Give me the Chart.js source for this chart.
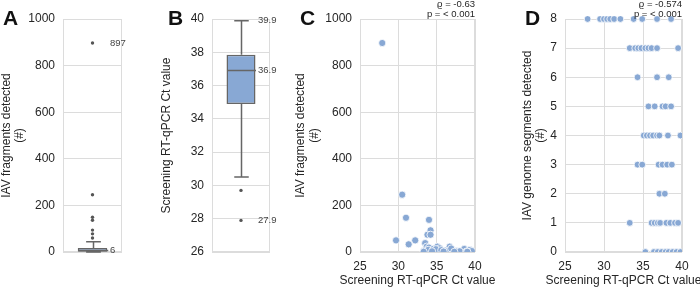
<!DOCTYPE html>
<html lang="en">
<head>
<title>IAV fragments and Ct values</title>
<script src="https://cdn.jsdelivr.net/npm/chart.js"></script>
<style>
    body { margin: 0; background: #fff; }
    #wrap { position: relative; width: 700px; height: 288px; overflow: hidden; }
    canvas { position: absolute; top: 0; }
    .letter { position: absolute; top: 7px; font: bold 21px "Liberation Sans", Arial, sans-serif; line-height: 1; color: #111; }
</style>
</head>
<body>
<div id="wrap">
    <canvas id="chartA" width="150" height="288" style="left:0px"></canvas>
    <canvas id="chartB" width="140" height="288" style="left:150px"></canvas>
    <canvas id="chartC" width="210" height="288" style="left:290px"></canvas>
    <canvas id="chartD" width="185" height="288" style="left:515px"></canvas>
    <div class="letter" style="left:3px">A</div>
    <div class="letter" style="left:168px">B</div>
    <div class="letter" style="left:300px">C</div>
    <div class="letter" style="left:525px">D</div>
</div>
<script>
// panel A: fragments box plot  [min, q1, median, q3, max]
const statsA = [0, 1, 6, 17, 44];
const outliersA = [897, 246, 149, 136, 94, 78, 60];
const marksA = [897, 6];

// panel B: Ct box plot
const statsB = [30.5, 34.9, 36.9, 37.85, 39.9];
const outliersB = [29.7, 27.9];
const marksB = [39.9, 36.9, 27.9];

// panel C: Ct vs fragments
const ctC = [27.9, 30.5, 31.0, 34.0, 34.2, 33.8, 34.2, 29.7, 32.2, 31.35, 33.5, 33.7, 34.0, 33.35, 33.9, 34.6,
    35.1, 35.4, 34.9, 36.1, 36.7, 37.0, 36.5, 37.6, 38.6, 39.35, 39.6, 33.3, 38.0, 38.9, 35.6, 34.4, 36.9, 37.3, 39.0, 35.9];
const fragC = [897, 246, 147, 138, 93, 74, 74, 50, 50, 33, 38, 23, 19, 6, 9, 14,
    23, 16, 12, 6, 23, 9, 4, 4, 13, 9, 4, 1, 3, 2, 8, 3, 15, 1, 1, 2];
const statC = ['ϱ = -0.63', 'p = < 0.001'];

// panel D: Ct vs segments
const ctD = [27.9, 29.5, 30.0, 30.4, 30.8, 31.3, 32.1, 33.8, 34.9, 36.8, 38.6,
    33.3, 34.0, 34.4, 34.8, 35.3, 35.7, 36.1, 36.8, 39.5,
    34.3, 36.8, 38.3,
    35.7, 36.5, 37.5, 37.9, 38.6,
    35.1, 35.5, 35.9, 36.3, 36.8, 37.1, 38.2, 39.8,
    34.3, 34.9, 37.0, 37.5, 38.1, 38.7,
    37.1, 37.8,
    33.3, 36.1, 36.5, 36.9, 37.2, 38.0, 38.5, 39.1, 39.5,
    35.3, 36.4, 36.9, 37.4, 37.9, 38.3, 38.8, 39.3, 39.8];
const segD = [8, 8, 8, 8, 8, 8, 8, 8, 8, 8, 8,
    7, 7, 7, 7, 7, 7, 7, 7, 7,
    6, 6, 6,
    5, 5, 5, 5, 5,
    4, 4, 4, 4, 4, 4, 4, 4,
    3, 3, 3, 3, 3, 3,
    2, 2,
    1, 1, 1, 1, 1, 1, 1, 1, 1,
    0, 0, 0, 0, 0, 0, 0, 0, 0];
const statD = ['ϱ = -0.574', 'p = < 0.001'];

const X_TITLE = 'Screening RT-qPCR Ct value';
const TEXT = '#262626';
const GRID = '#dcdcdc';
const BLUE = '#88a8d4';
const FAMILY = '"Liberation Sans", Arial, sans-serif';
const FONT = { family: FAMILY, size: 12 };

const frame = {
    id: 'frame',
    beforeDatasetsDraw(chart) {
        const { ctx, chartArea: a } = chart;
        ctx.save();
        ctx.strokeStyle = GRID;
        ctx.lineWidth = 1;
        ctx.strokeRect(Math.round(a.left) + 0.5, Math.round(a.top) + 0.5, Math.round(a.width) - 1, Math.round(a.height) - 1);
        ctx.restore();
    }
};

function yAxis(min, max, step, title, width, pad) {
    return {
        min: min, max: max,
        ticks: { stepSize: step, color: TEXT, font: FONT, padding: 8, callback: v => String(v) },
        grid: { color: GRID, drawTicks: false },
        border: { display: false },
        title: { display: true, text: title, color: TEXT, font: { ...FONT, lineHeight: 1.1 }, padding: { top: pad, bottom: 0 } },
        afterFit: s => { s.width = width; }
    };
}

function xAxis() {
    return {
        type: 'linear', min: 25, max: 40,
        ticks: { stepSize: 5, color: TEXT, font: FONT, padding: 7 },
        grid: { color: GRID, drawTicks: false },
        border: { display: false },
        afterFit: s => { s.height = 36; }
    };
}

function boxParts(stats, marks) {
    return {
        id: 'boxParts',
        afterDatasetsDraw(chart) {
            const { ctx, chartArea: a } = chart;
            const y = chart.scales.y;
            const bar = chart.getDatasetMeta(0).data[0];
            const cx = Math.round(bar.x) + 0.5, half = bar.width / 2;
            const py = v => y.getPixelForValue(v);
            ctx.save();
            ctx.strokeStyle = '#666';
            ctx.lineWidth = 1.5;
            ctx.beginPath();
            ctx.moveTo(cx, py(stats[3])); ctx.lineTo(cx, py(stats[4]));
            ctx.moveTo(cx, py(stats[1])); ctx.lineTo(cx, py(stats[0]));
            ctx.moveTo(cx - half / 2, py(stats[4])); ctx.lineTo(cx + half / 2, py(stats[4]));
            ctx.moveTo(cx - half / 2, py(stats[0])); ctx.lineTo(cx + half / 2, py(stats[0]));
            ctx.moveTo(cx - half, py(stats[2])); ctx.lineTo(cx + half, py(stats[2]));
            ctx.stroke();
            ctx.fillStyle = '#444';
            ctx.font = '9.5px ' + FAMILY;
            ctx.textBaseline = 'middle';
            marks.forEach(v => ctx.fillText(String(v), a.right - 12, py(v)));
            ctx.restore();
        }
    };
}

// correlation note above the plot and the x axis title below it
function corrText(lines) {
    return {
        id: 'corrText',
        afterDraw(chart) {
            const { ctx, chartArea: a } = chart;
            ctx.save();
            ctx.fillStyle = TEXT;
            ctx.font = '9.5px ' + FAMILY;
            ctx.textAlign = 'right';
            ctx.textBaseline = 'middle';
            ctx.fillText(lines[0], a.right, 4.5);
            ctx.fillText(lines[1], a.right, 14.5);
            ctx.font = '12px ' + FAMILY;
            ctx.textAlign = 'center';
            ctx.fillText(X_TITLE, (a.left + a.right) / 2, 281);
            ctx.restore();
        }
    };
}

function boxChart(id, stats, outliers, marks, y, padRight) {
    return new Chart(document.getElementById(id), {
        type: 'bar',
        data: {
            labels: ['box'],
            datasets: [{
                type: 'bar',
                data: [[stats[1], stats[3]]],
                backgroundColor: BLUE,
                borderColor: '#666',
                borderWidth: 1.5,
                borderSkipped: false,
                barPercentage: 0.5,
                categoryPercentage: 1
            }, {
                type: 'line',
                showLine: false,
                data: outliers.map(v => ({ x: 'box', y: v })),
                pointRadius: 1.7,
                pointBackgroundColor: '#555',
                pointBorderWidth: 0
            }]
        },
        options: {
            responsive: false,
            animation: false,
            layout: { padding: { top: 19, bottom: 36, left: 0, right: padRight } },
            plugins: { legend: { display: false }, tooltip: { enabled: false } },
            scales: { x: { display: false }, y: y }
        },
        plugins: [frame, boxParts(stats, marks)]
    });
}

function scatterChart(id, xs, ys, y, padRight, lines, radius) {
    return new Chart(document.getElementById(id), {
        type: 'scatter',
        data: {
            datasets: [{
                data: xs.map((x, i) => ({ x: x, y: ys[i] })),
                backgroundColor: BLUE,
                borderColor: '#ffffff',
                borderWidth: 0.8,
                pointRadius: radius,
                clip: { left: 0, right: 0, top: 3, bottom: 0 }
            }]
        },
        options: {
            responsive: false,
            animation: false,
            layout: { padding: { top: 19, bottom: 0, left: 0, right: padRight } },
            plugins: { legend: { display: false }, tooltip: { enabled: false } },
            scales: { x: xAxis(), y: y }
        },
        plugins: [frame, corrText(lines)]
    });
}

boxChart('chartA', statsA, outliersA, marksA,
    yAxis(0, 1000, 200, ['IAV fragments detected', '(#)'], 63, 0), 28);
boxChart('chartB', statsB, outliersB, marksB,
    yAxis(26, 40, 2, 'Screening RT-qPCR Ct value', 62, 10), 20);
scatterChart('chartC', ctC, fragC,
    yAxis(0, 1000, 200, ['IAV fragments detected', '(#)'], 70, 4.5), 25, statC, 3.6);
scatterChart('chartD', ctD, segD,
    yAxis(0, 8, 1, ['IAV genome segments detected', '(#)'], 50, 6), 18, statD, 3.4);
</script>
</body>
</html>
